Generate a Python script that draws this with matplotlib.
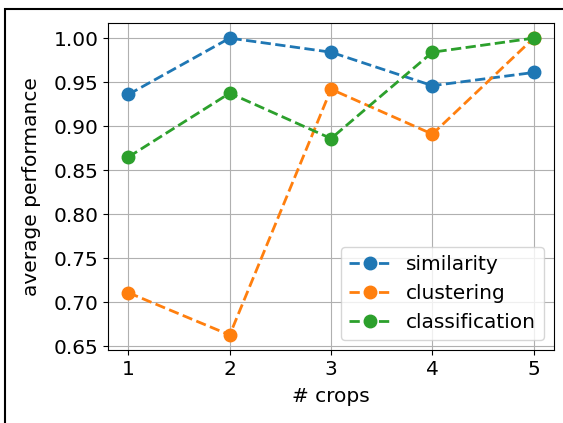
import matplotlib
matplotlib.use("Agg")
import matplotlib.pyplot as plt
from matplotlib.patches import Rectangle

crops = [1, 2, 3, 4, 5]
similarity = [0.936, 1.000, 0.984, 0.946, 0.961]
clustering = [0.711, 0.663, 0.942, 0.891, 1.000]
classification = [0.865, 0.9375, 0.886, 0.984, 1.000]

plt.rcParams['font.size'] = 14.5

fig = plt.figure(figsize=(5.63, 4.23), dpi=100)
ax = fig.add_axes([0.192, 0.173, 0.792, 0.772])

# dashed lines with round markers, default color cycle
ax.plot(crops, similarity, '--o', lw=2, ms=9, label='similarity')
ax.plot(crops, clustering, '--o', lw=2, ms=9, label='clustering')
ax.plot(crops, classification, '--o', lw=2, ms=9, label='classification')

ax.set_xticks(crops)
ax.set_xlabel('# crops', labelpad=6)
ax.set_ylabel('average performance', labelpad=9)
ax.grid(True)
ax.legend(loc='lower right')

# outer frame, cut off on the right and bottom like the source image
fig.add_artist(Rectangle((5 / 563, -0.5), 1.5, 0.5 + 1 - 9 / 423,
                         transform=fig.transFigure, fill=False,
                         edgecolor='black', lw=1.5, clip_on=False))

fig.savefig('out.png', dpi=100)
